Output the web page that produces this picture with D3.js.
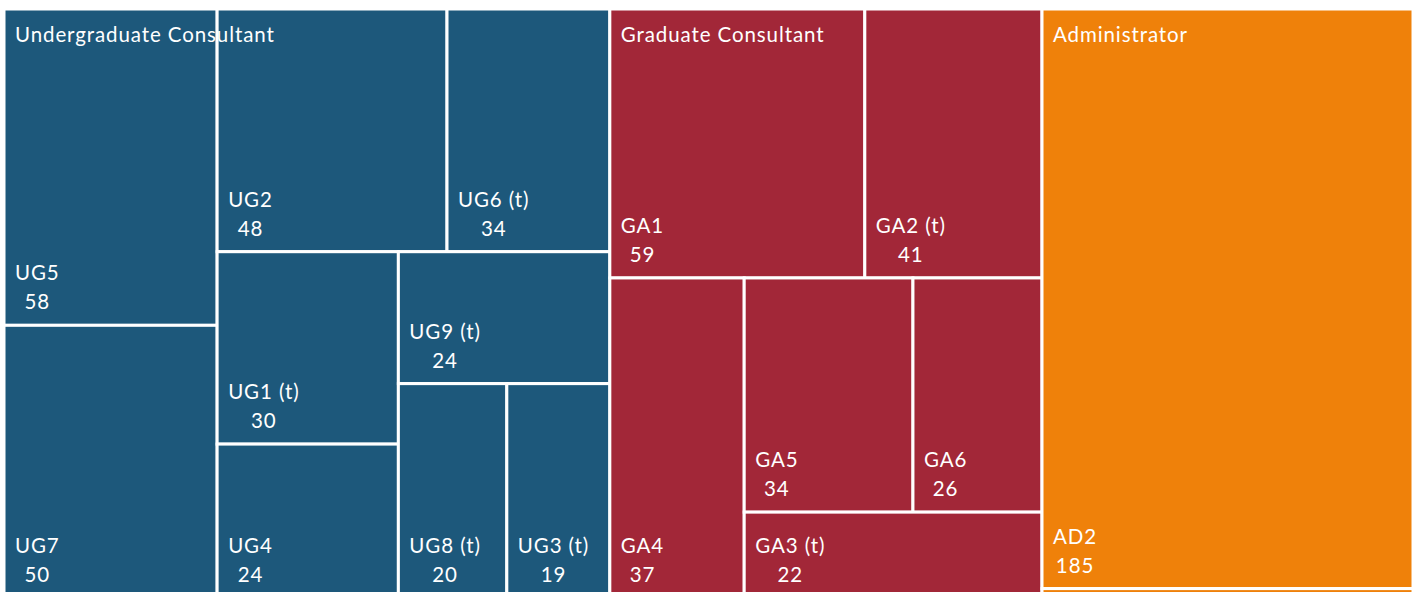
<!DOCTYPE html>
<html>
<head>
<meta charset="utf-8">
<script src="https://cdn.jsdelivr.net/npm/d3@7"></script>
<style>
  body { margin: 0; overflow: hidden; background: #fff; }
  text { font-family: Lato, "Open Sans", sans-serif; fill: #fff; letter-spacing: 0.9px; }
</style>
</head>
<body>
<div id="chart"></div>
<script>
// data
var groups = ['Undergraduate Consultant', 'Graduate Consultant', 'Administrator'];

var ugNames = ['UG5', 'UG7', 'UG2', 'UG6 (t)', 'UG1 (t)', 'UG4', 'UG9 (t)', 'UG8 (t)', 'UG3 (t)'];
var ugValues = [58, 50, 48, 34, 30, 24, 24, 20, 19];

var gaNames = ['GA1', 'GA2 (t)', 'GA4', 'GA5', 'GA6', 'GA3 (t)'];
var gaValues = [59, 41, 37, 34, 26, 22];

// AD1 is only a sliver at the bottom edge of the picture (estimated)
var adNames = ['AD2', 'AD1'];
var adValues = [185, 3];

var groupColors = ['#1d587b', '#a22738', '#ef810a'];

// svg container
var svgWidth = 1416;
var svgHeight = 600;
var margin = { top: 9, right: 3, bottom: 2, left: 4 };
var chartWidth = svgWidth - margin.left - margin.right;
var chartHeight = svgHeight - margin.top - margin.bottom;

var svg = d3.select('#chart').append('svg')
    .attr('width', svgWidth)
    .attr('height', svgHeight);

var chartGroup = svg.append('g')
    .attr('transform', `translate(${margin.left}, ${margin.top})`);

// build the hierarchy
function leaves(names, values) {
    return names.map((n, i) => ({ name: n, value: values[i] }));
}
var tree = {
    name: 'root',
    children: [
        { name: groups[0], children: leaves(ugNames, ugValues) },
        { name: groups[1], children: leaves(gaNames, gaValues) },
        { name: groups[2], children: leaves(adNames, adValues) }
    ]
};

var root = d3.hierarchy(tree)
    .sum(d => d.value || 0)
    .sort((a, b) => b.value - a.value);

// strips the way the spreadsheet packs them (how many tiles go in each strip)
var strips = {
    'Undergraduate Consultant': [2, 2, 2, 1, 2],
    'Graduate Consultant': [2, 1, 2, 1],
    'Administrator': [1, 1]
};

function stripTile(node, x0, y0, x1, y1) {
    // groups side by side
    if (!node.parent) return d3.treemapDice(node, x0, y0, x1, y1);
    var kids = node.children, total = node.value, i = 0;
    strips[node.data.name].forEach(function (count) {
        var row = { children: kids.slice(i, i + count) };
        row.value = d3.sum(row.children, c => c.value);
        var dx = x1 - x0, dy = y1 - y0;
        if (dx < dy) {
            // row across the top
            var yb = y0 + dy * row.value / total;
            d3.treemapDice(row, x0, y0, x1, yb);
            y0 = yb;
        } else {
            // column down the left
            var xb = x0 + dx * row.value / total;
            d3.treemapSlice(row, x0, y0, xb, y1);
            x0 = xb;
        }
        total -= row.value;
        i += count;
    });
}

d3.treemap()
    .size([chartWidth, chartHeight])
    .tile(stripTile)(root);

var color = d3.scaleOrdinal().domain(groups).range(groupColors);

// tiles
var cells = chartGroup.selectAll('g.cell')
    .data(root.leaves())
    .enter()
    .append('g')
    .attr('class', 'cell');

cells.append('rect')
    .attr('x', d => d.x0)
    .attr('y', d => d.y0)
    .attr('width', d => d.x1 - d.x0)
    .attr('height', d => d.y1 - d.y0)
    .attr('fill', d => color(d.parent.data.name))
    .attr('stroke', '#fff')
    .attr('stroke-width', 3);

// labels: name over value, centred on each other, block sits at the bottom left
var fontSize = 20.5;
cells.filter(d => d.y1 - d.y0 > 60).each(function (d) {
    var g = d3.select(this);
    var nameText = g.append('text')
        .attr('x', d.x0 + 11)
        .attr('y', d.y1 - 45)
        .style('font-size', fontSize + 'px')
        .text(d.data.name);
    var w = nameText.node().getComputedTextLength();
    g.append('text')
        .attr('x', d.x0 + 11 + w / 2)
        .attr('y', d.y1 - 16)
        .style('font-size', fontSize + 'px')
        .style('text-anchor', 'middle')
        .text(d.value);
});

// group headers on top
chartGroup.selectAll('text.header')
    .data(root.children)
    .enter()
    .append('text')
    .attr('class', 'header')
    .attr('x', d => d.x0 + 11)
    .attr('y', 33)
    .style('font-size', fontSize + 'px')
    .text(d => d.data.name);
</script>
</body>
</html>
